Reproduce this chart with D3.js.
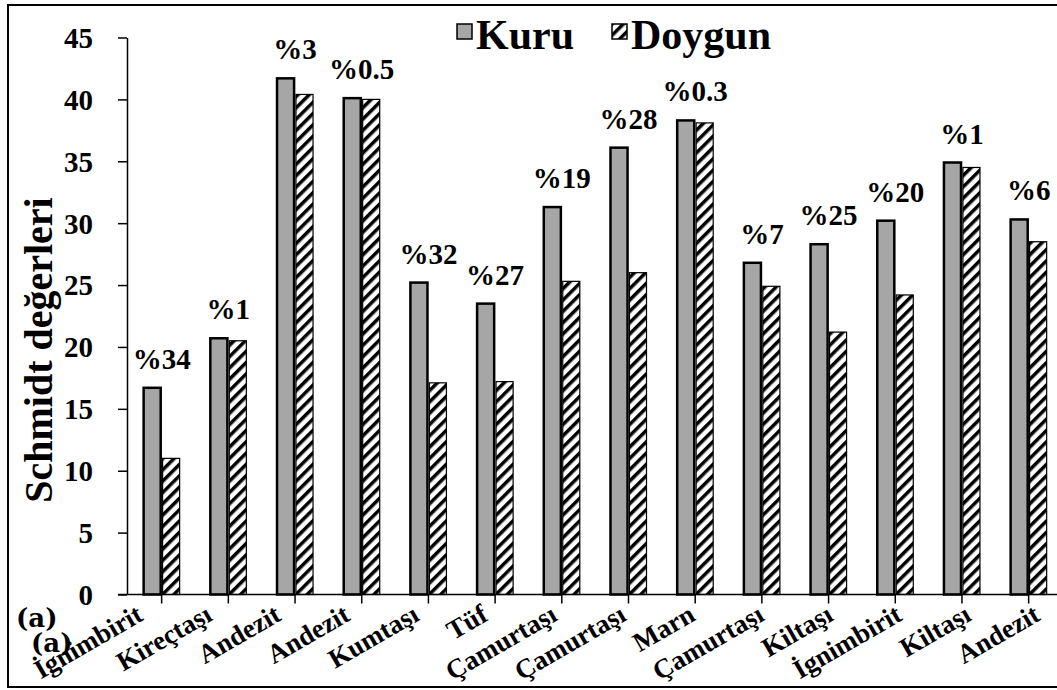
<!DOCTYPE html>
<html>
<head>
<meta charset="utf-8">
<script src="https://cdn.jsdelivr.net/npm/d3@7"></script>
<style>
  body { margin: 0; background: #fff; }
  text { font-family: "Liberation Serif", Tinos, "Times New Roman", "DejaVu Serif", serif; font-weight: bold; fill: #000; }
  .axis path, .axis line { stroke: #000; stroke-width: 1.5; }
</style>
</head>
<body>
<div id="chart"></div>
<script>
var categories = ["İgnimbirit", "Kireçtaşı", "Andezit", "Andezit", "Kumtaşı", "Tüf", "Çamurtaşı",
                  "Çamurtaşı", "Marn", "Çamurtaşı", "Kiltaşı", "İgnimbirit", "Kiltaşı", "Andezit"];
var kuru   = [16.7, 20.7, 41.7, 40.1, 25.2, 23.5, 31.3, 36.1, 38.3, 26.8, 28.3, 30.2, 34.9, 30.3];
var doygun = [11.0, 20.5, 40.4, 40.0, 17.1, 17.2, 25.3, 26.0, 38.1, 24.9, 21.2, 24.2, 34.5, 28.5];
var losses = ["%34", "%1", "%3", "%0.5", "%32", "%27", "%19", "%28", "%0.3", "%7", "%25", "%20", "%1", "%6"];
var series = ["Kuru", "Doygun"];
var yTicks = [0, 5, 10, 15, 20, 25, 30, 35, 40, 45];

var serif = '"Liberation Serif", Tinos, "Times New Roman", "DejaVu Serif", serif';

function draw() {
    var width = 1057, height = 690;

    var svg = d3.select("#chart").append("svg")
        .attr("width", width)
        .attr("height", height);

    // hatch for the saturated (Doygun) bars
    var defs = svg.append("defs");
    defs.append("pattern")
        .attr("id", "hatch")
        .attr("patternUnits", "userSpaceOnUse")
        .attr("width", 8).attr("height", 8)
        .attr("patternTransform", "rotate(45)")
      .append("rect")
        .attr("x", 0).attr("y", 0)
        .attr("width", 3.5).attr("height", 8)
        .style("fill", "#000");

    // outer frame
    svg.append("rect")
        .attr("x", 8).attr("y", 5)
        .attr("width", 1200).attr("height", 682)
        .style("fill", "none").style("stroke", "#000").style("stroke-width", 2);

    var x0 = d3.scaleBand()
        .domain(d3.range(categories.length))
        .range([128.3, 1062])
        .paddingInner(0.46)
        .paddingOuter(0.23);

    var x1 = d3.scaleBand()
        .domain(series)
        .range([0, x0.bandwidth()])
        .paddingInner(0.1);

    var y = d3.scaleLinear().domain([0, 45]).range([594.5, 37.5]);

    // category labels drift a little relative to the ticks (as in the original)
    var labelShift = d3.scaleLinear().domain([0, categories.length - 1]).range([-17, 13]);

    // y axis
    var yAxis = svg.append("g")
        .attr("class", "axis")
        .attr("transform", "translate(127,0)")
        .call(d3.axisLeft(y).tickValues(yTicks).tickSize(9).tickSizeOuter(0).tickPadding(25));
    yAxis.attr("font-family", null);
    yAxis.selectAll("text")
        .style("font-size", "29px")
        .style("font-family", serif)
        .style("font-weight", "bold")
        .attr("dy", "0.34em");

    svg.append("text")
        .attr("transform", "translate(52,350) rotate(-90)")
        .style("text-anchor", "middle")
        .style("font-size", "40px")
        .text("Schmidt değerleri");

    // bars
    var groups = svg.selectAll("g.cat")
        .data(categories)
      .enter().append("g")
        .attr("class", "cat")
        .attr("transform", function(d, i) { return "translate(" + x0(i) + ",0)"; });

    groups.append("rect")
        .attr("x", x1("Kuru"))
        .attr("y", function(d, i) { return y(kuru[i]); })
        .attr("width", x1.bandwidth())
        .attr("height", function(d, i) { return y(0) - y(kuru[i]); })
        .style("fill", "#a6a6a6")
        .style("stroke", "#000")
        .style("stroke-width", 2.5);

    groups.append("rect")
        .attr("x", x1("Doygun"))
        .attr("y", function(d, i) { return y(doygun[i]); })
        .attr("width", x1.bandwidth())
        .attr("height", function(d, i) { return y(0) - y(doygun[i]); })
        .style("fill", "url(#hatch)")
        .style("stroke", "#000")
        .style("stroke-width", 1.2);

    groups.append("text")
        .attr("x", x0.bandwidth() / 2)
        .attr("y", function(d, i) { return y(Math.max(kuru[i], doygun[i])) - 19; })
        .style("text-anchor", "middle")
        .style("font-size", "29px")
        .text(function(d, i) { return losses[i]; });

    // x axis (ticks at category centres)
    var xAxis = svg.append("g")
        .attr("class", "axis")
        .attr("transform", "translate(0," + y(0) + ")")
        .call(d3.axisBottom(x0).tickSize(9).tickSizeOuter(0).tickFormat(function(i) { return categories[i]; }));
    xAxis.attr("font-family", null);
    xAxis.select(".domain").attr("d", "M118,0H1060");
    xAxis.selectAll("text")
        .style("font-size", "27px")
        .style("font-family", serif)
        .style("font-weight", "bold")
        .style("text-anchor", "end")
        .attr("x", 0)
        .attr("y", 0)
        .attr("dy", 0)
        .attr("transform", function(i) { return "translate(" + labelShift(i) + ",25) rotate(-30)"; });

    // legend
    var legend = svg.append("g").attr("class", "legend");
    var legX = [457, 612];
    series.forEach(function(s, i) {
        legend.append("rect")
            .attr("x", legX[i]).attr("y", 24)
            .attr("width", 15).attr("height", 15)
            .style("fill", i === 0 ? "#a6a6a6" : "url(#hatch)")
            .style("stroke", "#000")
            .style("stroke-width", 1.5);
        legend.append("text")
            .attr("x", legX[i] + 19).attr("y", 49)
            .style("font-size", "42px")
            .text(s);
    });

    // panel tags
    svg.append("text")
        .attr("x", 16).attr("y", 627)
        .style("font-family", "DejaVu Serif")
        .style("font-size", "26px")
        .text("(a)");
    svg.append("text")
        .attr("x", 31).attr("y", 652)
        .style("font-family", "DejaVu Serif")
        .style("font-size", "26px")
        .text("(a)");
}

draw();
</script>
</body>
</html>
